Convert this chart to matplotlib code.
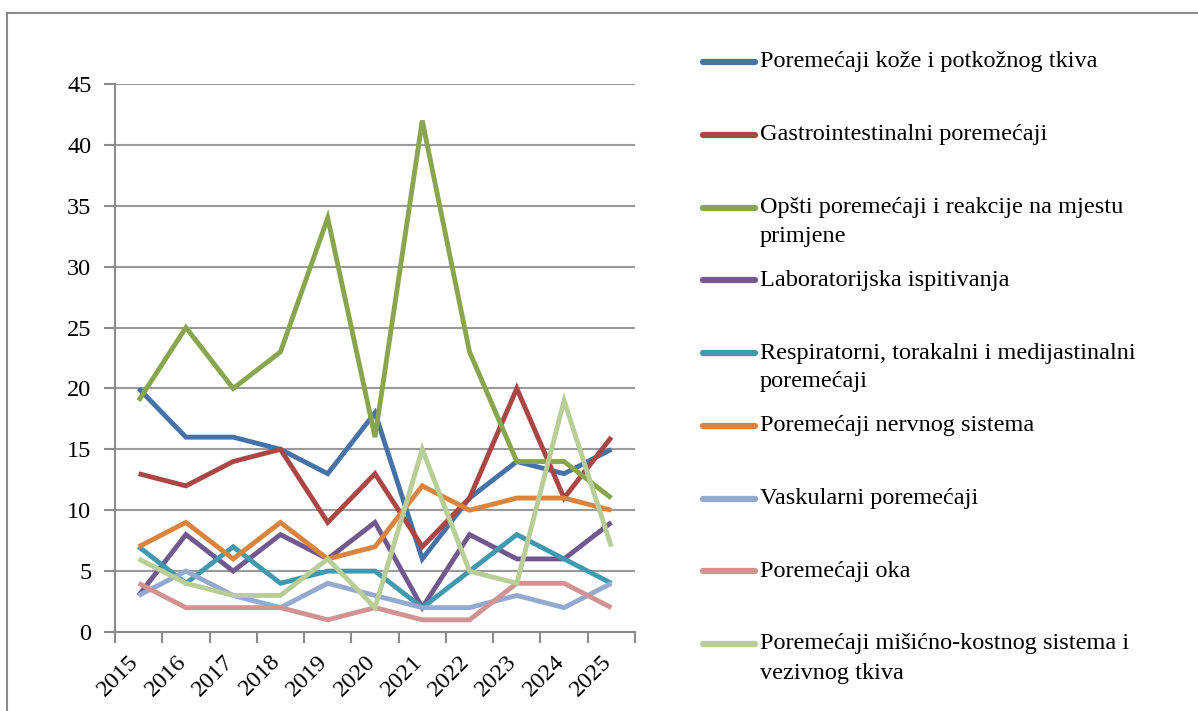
import matplotlib
matplotlib.use("Agg")
import matplotlib.pyplot as plt
import matplotlib.transforms as mtransforms
from matplotlib.lines import Line2D
from matplotlib.patches import Rectangle
import numpy as np

plt.rcParams['font.family'] = ['Liberation Serif', 'DejaVu Serif']

years = ['2015', '2016', '2017', '2018', '2019', '2020', '2021', '2022', '2023', '2024', '2025']

koza = [20, 16, 16, 15, 13, 18, 6, 11, 14, 13, 15]
gastro = [13, 12, 14, 15, 9, 13, 7, 11, 20, 11, 16]
opsti = [19, 25, 20, 23, 34, 16, 42, 23, 14, 14, 11]
lab = [3, 8, 5, 8, 6, 9, 2, 8, 6, 6, 9]
resp = [7, 4, 7, 4, 5, 5, 2, 5, 8, 6, 4]
nervni = [7, 9, 6, 9, 6, 7, 12, 10, 11, 11, 10]
vask = [3, 5, 3, 2, 4, 3, 2, 2, 3, 2, 4]
oko = [4, 2, 2, 2, 1, 2, 1, 1, 4, 4, 2]
misic = [6, 4, 3, 3, 6, 2, 15, 5, 4, 19, 7]

labels = [
    ['Poremećaji kože i potkožnog tkiva'],
    ['Gastrointestinalni poremećaji'],
    ['Opšti poremećaji i reakcije na mjestu', 'primjene'],
    ['Laboratorijska ispitivanja'],
    ['Respiratorni, torakalni i medijastinalni', 'poremećaji'],
    ['Poremećaji nervnog sistema'],
    ['Vaskularni poremećaji'],
    ['Poremećaji oka'],
    ['Poremećaji mišićno-kostnog sistema i', 'vezivnog tkiva'],
]
series = [koza, gastro, opsti, lab, resp, nervni, vask, oko, misic]
colors = ['#4572A7', '#AA4643', '#89A54E', '#71588F', '#4198AF',
          '#DB843D', '#93A9CF', '#D19392', '#B9CD96']

fs = 17.5
W, H = 1198, 711
fig = plt.figure(figsize=(W / 100, H / 100), dpi=100)

# outer chart border (runs off right and bottom)
fig.add_artist(Rectangle((7 / W, -0.1), 1.2, 1.1 - 13 / H, transform=fig.transFigure,
                         fill=False, edgecolor='#8c8c8c', lw=1.5))

ax = fig.add_axes([115 / W, 1 - 632 / H, 520 / W, (632 - 84) / H])

x = np.arange(len(years))
for s, c in zip(series, colors):
    ax.plot(x, s, color=c, lw=3.5, solid_joinstyle='miter', solid_capstyle='butt', zorder=3)

ax.set_xlim(-0.5, len(years) - 0.5)
ax.set_ylim(0, 45)
ax.set_yticks(range(0, 46, 5))
ax.yaxis.grid(True, color='#9a9a9a', lw=1.5)
ax.set_axisbelow(True)

ax.set_xticks(x)
ax.set_xticklabels(years, rotation=45, ha='right', va='center', rotation_mode='anchor', fontsize=fs)
ax.set_xticks(np.arange(-0.5, len(years)), minor=True)
ax.tick_params(axis='x', which='major', length=0, pad=19)
ax.tick_params(axis='x', which='minor', length=8, width=1.5, color='#8c8c8c', direction='out')
ax.tick_params(axis='y', length=8, width=1.5, color='#8c8c8c', labelsize=fs, pad=9)

shift = mtransforms.ScaledTranslation(-3 / 100, 0, fig.dpi_scale_trans)
for t in ax.get_xticklabels():
    t.set_transform(t.get_transform() + shift)

for sp in ['top', 'right']:
    ax.spines[sp].set_visible(False)
for sp in ['left', 'bottom']:
    ax.spines[sp].set_color('#8c8c8c')
    ax.spines[sp].set_linewidth(1.5)

# legend drawn by hand so the handle sits on the first text line
y0, step = 62, 72.75
for i, (lab_lines, c) in enumerate(zip(labels, colors)):
    yp = y0 + i * step
    fy = 1 - yp / H
    fig.add_artist(Line2D([703 / W, 755 / W], [fy, fy], transform=fig.transFigure,
                          color=c, lw=4.5, solid_capstyle='round'))
    for j, t in enumerate(lab_lines):
        fig.text(760 / W, 1 - (yp + j * 29) / H, t, fontsize=fs, va='center', ha='left')

fig.savefig('out.png', dpi=100)
